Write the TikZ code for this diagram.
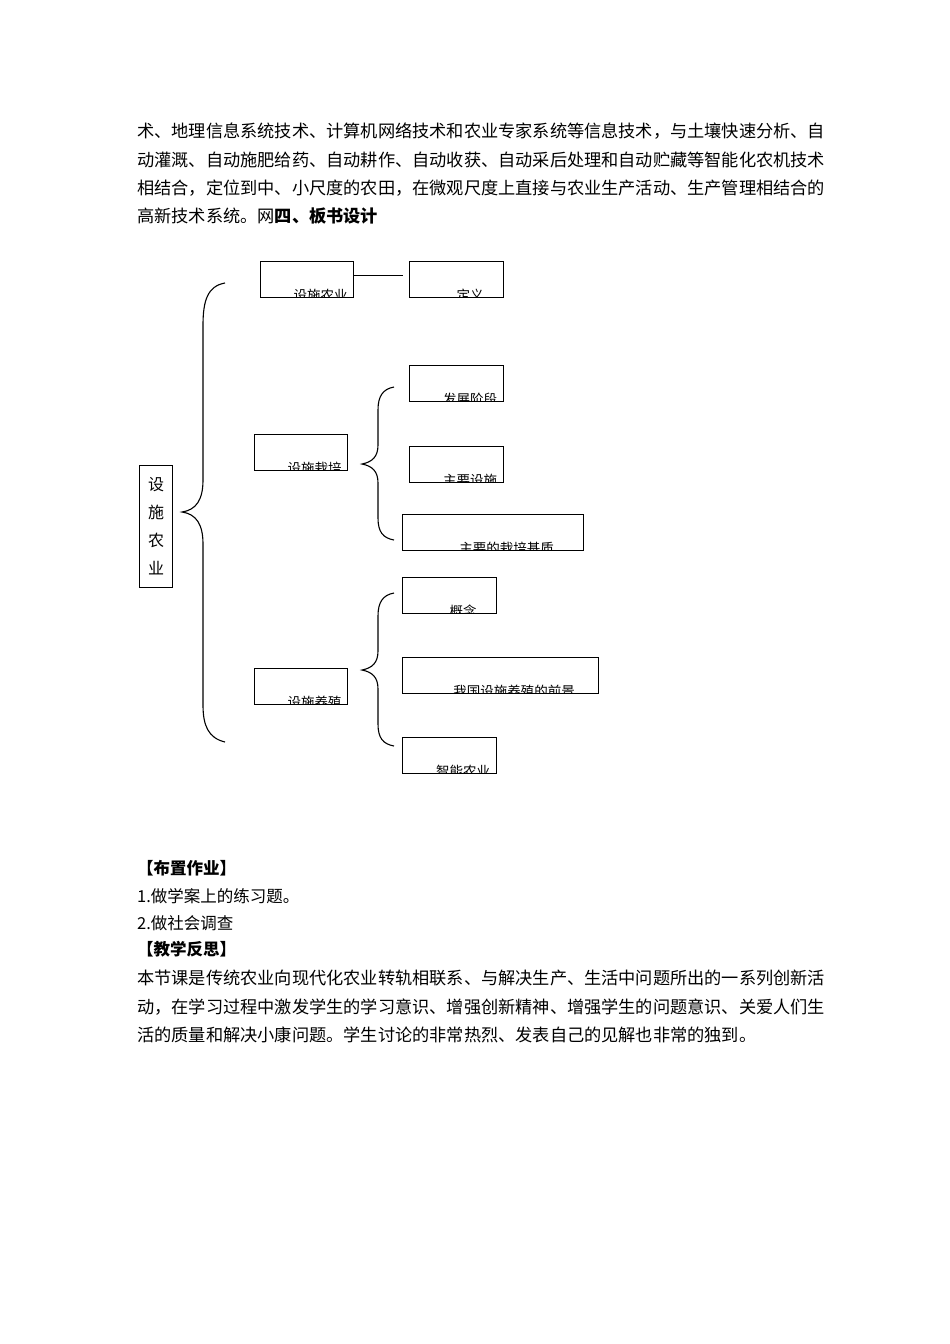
\documentclass[tikz,border=0pt]{standalone}
\usepackage{fontspec}
\newfontfamily\cjk{Noto Sans CJK SC}
\begin{document}
\begin{tikzpicture}[x=1pt,y=-1pt,
  body/.style={anchor=west,inner sep=0,font=\cjk\fontsize{17.2}{17.2}\selectfont},
  bodyb/.style={anchor=west,inner sep=0,font=\cjk\fontsize{16.5}{16.5}\selectfont},
  cbox/.style 2 args={draw,line width=1.1pt,anchor=north west,inner sep=0,minimum width=#1pt,minimum height=36pt,
    path picture={\node[anchor=west,inner sep=0,font=\cjk\fontsize{13.5}{13.5}\selectfont] at ([xshift=13pt,yshift=2pt]path picture bounding box.south west) {#2};}},
  brace/.style={line width=1.1pt}]
\useasboundingbox[fill=white] (0,0) rectangle (950,1344);
\node[body] (l1) at (137,131) {术、地理信息系统技术、计算机网络技术和农业专家系统等信息技术，与土壤快速分析、自};
\node[body] (l2) at (137,160) {动灌溉、自动施肥给药、自动耕作、自动收获、自动采后处理和自动贮藏等智能化农机技术};
\node[body] (l3) at (137,188) {相结合，定位到中、小尺度的农田，在微观尺度上直接与农业生产活动、生产管理相结合的};
\node[body] (l4) at (137,216) {高新技术系统。网\textbf{四、板书设计}};

\node[draw,line width=1.1pt,anchor=north west,minimum width=33pt,minimum height=122pt,inner sep=0,align=center,
  font=\cjk\fontsize{16}{28}\selectfont] (root) at (139,465) {设\\施\\农\\业};

\node[cbox={93}{设施农业}] (a) at (260,261) {};
\node[cbox={94}{定义}] (a1) at (409,261) {};
\draw[line width=1pt] ([yshift=4pt]a.east) -- ([xshift=-6pt,yshift=4pt]a1.west);

\node[cbox={93}{设施栽培}] (b) at (254,434) {};
\node[cbox={94}{发展阶段}] (b1) at (409,365) {};
\node[cbox={94}{主要设施}] (b2) at (409,446) {};
\node[cbox={181}{主要的栽培基质}] (b3) at (402,514) {};

\node[cbox={93}{设施养殖}] (c) at (254,668) {};
\node[cbox={94}{概念}] (c1) at (402,577) {};
\node[cbox={196}{我国设施养殖的前景}] (c2) at (402,657) {};
\node[cbox={94}{智能农业}] (c3) at (402,737) {};

% big brace
\draw[brace] (225,283) .. controls (208,286) and (203,300) .. (203,325) -- (203,480)
  .. controls (203,500) and (196,510) .. (182,512)
  .. controls (196,514) and (203,524) .. (203,544) -- (203,705)
  .. controls (203,725) and (208,738) .. (225,742);
% brace 2
\draw[brace] (394,387) .. controls (383,389) and (378,396) .. (378,410) -- (378,445)
  .. controls (378,457) and (372,462) .. (362,464)
  .. controls (372,466) and (378,471) .. (378,483) -- (378,518)
  .. controls (378,532) and (383,538) .. (394,540);
% brace 3
\draw[brace] (394,593) .. controls (383,595) and (378,602) .. (378,616) -- (378,651)
  .. controls (378,663) and (372,668) .. (362,670)
  .. controls (372,672) and (378,677) .. (378,689) -- (378,724)
  .. controls (378,738) and (383,744) .. (394,746);

\node[bodyb] (h1) at (137,868) {\textbf{【布置作业】}};
\node[bodyb] (h2) at (137,896) {1.做学案上的练习题。};
\node[bodyb] (h3) at (137,923) {2.做社会调查};
\node[bodyb] (h4) at (137,949) {\textbf{【教学反思】}};
\node[body] (p1) at (137,978) {本节课是传统农业向现代化农业转轨相联系、与解决生产、生活中问题所出的一系列创新活};
\node[body] (p2) at (137,1007) {动，在学习过程中激发学生的学习意识、增强创新精神、增强学生的问题意识、关爱人们生};
\node[body] (p3) at (137,1035) {活的质量和解决小康问题。学生讨论的非常热烈、发表自己的见解也非常的独到。};
\end{tikzpicture}
\end{document}
